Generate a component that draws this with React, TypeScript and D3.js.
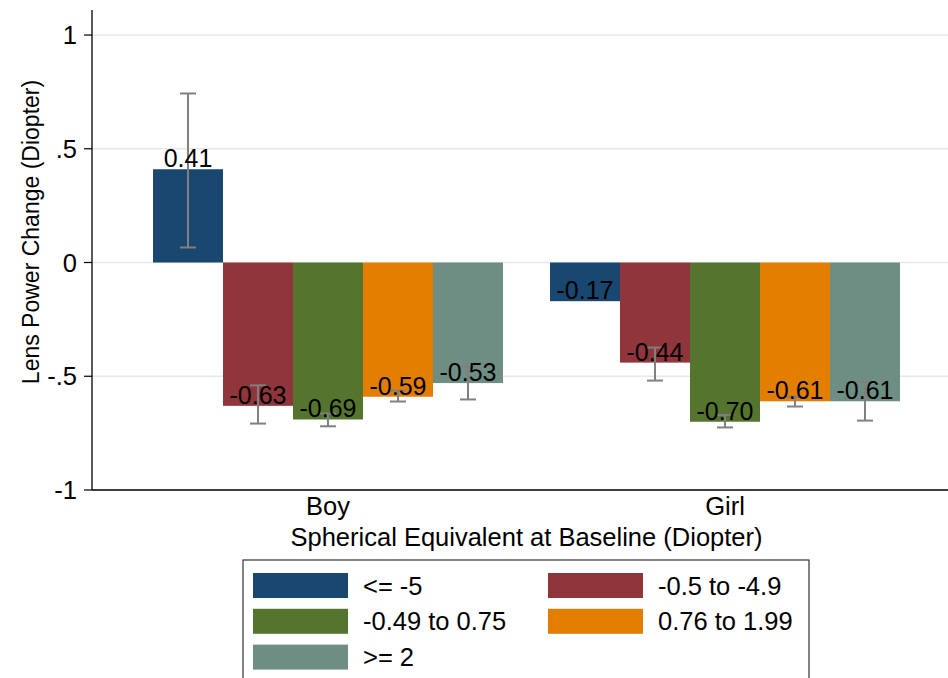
import React from "react";
import * as d3 from "d3";

const groups = ["Boy", "Girl"];
const seriesNames = ["<= -5", "-0.5 to -4.9", "-0.49 to 0.75", "0.76 to 1.99", ">= 2"];
const seriesColors = ["#1a476f", "#90353b", "#55752f", "#e37e00", "#6e8e84"];
const boyValues = [0.41, -0.63, -0.69, -0.59, -0.53];
const girlValues = [-0.17, -0.44, -0.7, -0.61, -0.61];
const boyLow = [0.066, -0.708, -0.72, -0.611, -0.602];
const boyHigh = [0.743, -0.54, -0.664, -0.563, -0.457];
const girlLow = [null, -0.519, -0.725, -0.633, -0.695];
const girlHigh = [null, -0.374, -0.67, -0.59, -0.525];
const yTicks = [1, 0.5, 0, -0.5, -1];
const yTickLabels = ["1", ".5", "0", "-.5", "-1"];

const W = 948;
const H = 678;
const left = 92;
const right = 961;
const top = 10;
const bottom = 490;
const font = "'Liberation Sans', Arial, sans-serif";
const fs = 25.5;

export default function App() {
  const y = d3.scaleLinear().domain([-1, 1.11]).range([bottom, top]);
  const x0 = d3.scaleBand().domain(groups).range([left, right]).paddingInner(0.1184).paddingOuter(0.1537);
  const x1 = d3.scaleBand().domain(seriesNames).range([0, x0.bandwidth()]).padding(0);
  const vals = [boyValues, girlValues];
  const lows = [boyLow, girlLow];
  const highs = [boyHigh, girlHigh];
  const grey = "#808080";

  return (
    <div style={{ position: "absolute", left: 0, top: 0 }}>
      <svg width={W} height={H} style={{ display: "block", background: "#fff" }}>
        {yTicks.map((t, i) => (
          <g key={"t" + i}>
            {t !== -1 && (
              <line x1={left} x2={W} y1={y(t)} y2={y(t)} stroke="#e8e8e8" strokeWidth={1.3} />
            )}
            <line x1={left - 8} x2={left} y1={y(t)} y2={y(t)} stroke="#000" strokeWidth={1.2} />
            <text x={left - 15} y={y(t)} dy="0.36em" textAnchor="end" fontFamily={font} fontSize={fs} fill="#000">
              {yTickLabels[i]}
            </text>
          </g>
        ))}
        {groups.map((g, gi) => (
          <g key={g} transform={`translate(${x0(g)},0)`}>
            {seriesNames.map((s, si) => {
              const v = vals[gi][si];
              return (
                <rect
                  key={s}
                  x={x1(s)}
                  width={x1.bandwidth()}
                  y={Math.min(y(v), y(0))}
                  height={Math.abs(y(v) - y(0))}
                  fill={seriesColors[si]}
                />
              );
            })}
            {seriesNames.map((s, si) => {
              const lo = lows[gi][si];
              const hi = highs[gi][si];
              if (lo === null || hi === null) return null;
              const cx = (x1(s) as number) + x1.bandwidth() / 2;
              return (
                <g key={"e" + s} stroke={grey} strokeWidth={2}>
                  <line x1={cx} x2={cx} y1={y(hi)} y2={y(lo)} />
                  <line x1={cx - 8} x2={cx + 8} y1={y(hi)} y2={y(hi)} />
                  <line x1={cx - 8} x2={cx + 8} y1={y(lo)} y2={y(lo)} />
                </g>
              );
            })}
            {seriesNames.map((s, si) => {
              const v = vals[gi][si];
              const cx = (x1(s) as number) + x1.bandwidth() / 2;
              return (
                <text key={"l" + s} x={cx} y={y(v) - 2} textAnchor="middle" fontFamily={font} fontSize={25} fill="#000">
                  {v.toFixed(2)}
                </text>
              );
            })}
            <text x={x0.bandwidth() / 2} y={515} textAnchor="middle" fontFamily={font} fontSize={fs} fill="#000">
              {g}
            </text>
          </g>
        ))}
        <line x1={left} x2={left} y1={top} y2={bottom} stroke="#000" strokeWidth={1.3} />
        <line x1={left} x2={W} y1={bottom} y2={bottom} stroke="#000" strokeWidth={1.3} />
        <text
          transform={`translate(31,232) rotate(-90)`}
          textAnchor="middle"
          dy="0.36em"
          fontFamily={font}
          fontSize={23}
          fill="#000"
        >
          Lens Power Change (Diopter)
        </text>
        <text x={(left + right) / 2} y={546} textAnchor="middle" fontFamily={font} fontSize={fs} fill="#000">
          Spherical Equivalent at Baseline (Diopter)
        </text>
        <rect x={243} y={560} width={566} height={140} fill="#fff" stroke="#333" strokeWidth={1.2} />
        {seriesNames.map((s, i) => {
          const col = i % 2;
          const row = Math.floor(i / 2);
          const sx = col === 0 ? 253 : 548;
          const sy = 573 + row * 35.8;
          return (
            <g key={"lg" + s}>
              <rect x={sx} y={sy} width={95} height={25} fill={seriesColors[i]} />
              <text x={sx + 110} y={sy + 12.5} dy="0.36em" fontFamily={font} fontSize={fs} fill="#000">
                {s}
              </text>
            </g>
          );
        })}
      </svg>
    </div>
  );
}
